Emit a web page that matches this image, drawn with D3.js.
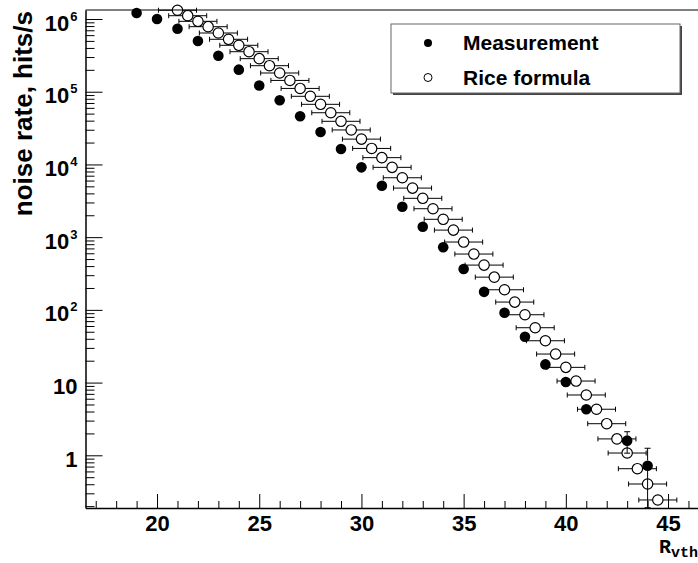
<!DOCTYPE html>
<html>
<head>
<meta charset="utf-8">
<script src="https://cdn.jsdelivr.net/npm/d3@7"></script>
<style>
  body { margin: 0; background: #fff; }
  text { font-family: 'Liberation Sans', Arial, sans-serif; font-weight: bold; fill: #000; }
</style>
</head>
<body>
<svg id="chart" width="698" height="563"></svg>
<script>
// measured noise rate (filled markers)
const measX = [19, 20, 21, 22, 23, 24, 25, 26, 27, 28, 29, 30, 31, 32, 33, 34, 35, 36, 37, 38, 39, 40, 41, 43, 44]
const measY = [1.21e6, 1.0e6, 7.36e5, 4.98e5, 3.13e5, 2.01e5, 1.22e5, 7.62e4, 4.59e4, 2.79e4, 1.63e4, 9.12e3,
  5.09e3, 2.62e3, 1.39e3, 725, 364, 177, 91.2, 42.7, 17.8, 10.2, 4.29, 1.59, 0.72]
const measErr = [0, 0, 0, 0, 0, 0, 0, 0, 0, 0, 0, 0, 0, 0, 0, 0, 0, 0, 0, 0, 0, 0, 0, 0.52, 0.53]

// Rice formula (open markers)
const riceX = [21, 21.5, 22, 22.5, 23, 23.5, 24, 24.5, 25, 25.5, 26, 26.5, 27, 27.5, 28, 28.5, 29, 29.5,
  30, 30.5, 31, 31.5, 32, 32.5, 33, 33.5, 34, 34.5, 35, 35.5, 36, 36.5, 37, 37.5, 38, 38.5, 39, 39.5,
  40, 40.5, 41, 41.5, 42, 42.5, 43, 43.5, 44, 44.5]
const riceY = [1.32e6, 1.11e6, 9.3e5, 7.84e5, 6.42e5, 5.26e5, 4.35e5, 3.55e5, 2.85e5, 2.28e5, 1.81e5, 1.43e5,
  1.11e5, 8.65e4, 6.71e4, 5.14e4, 3.92e4, 2.98e4, 2.23e4, 1.66e4, 1.24e4, 9.12e3, 6.56e3, 4.73e3,
  3.42e3, 2.46e3, 1.76e3, 1.25e3, 857, 586, 413, 282, 189, 128, 85.7, 56.8, 37.6, 24.7,
  16.2, 10.5, 6.75, 4.3, 2.72, 1.68, 1.075, 0.654, 0.403, 0.243]
const riceXErr = 0.93

const xMajorTicks = [20, 25, 30, 35, 40, 45]
const yMajorTicks = [1, 10, 100, 1e3, 1e4, 1e5, 1e6]
const yTickLabels = ['1', '10', '10|2', '10|3', '10|4', '10|5', '10|6']

const svg = d3.select('#chart')
const frame = { left: 85.5, top: 10, right: 698.7, bottom: 508 }

const x = d3.scaleLinear().domain([16.5, 46.5]).range([frame.left, frame.right])
const y = d3.scaleLog().domain([0.1885, 1.33e6]).range([frame.bottom, frame.top])

// top frame line
svg.append('line')
  .attr('x1', frame.left).attr('x2', frame.right)
  .attr('y1', frame.top).attr('y2', frame.top)
  .attr('stroke', '#000').attr('stroke-width', 1.2)

// x axis: minor + major ticks pointing inward
const xMinor = d3.range(17, 47).filter((v) => !xMajorTicks.includes(v))
svg.append('g')
  .attr('transform', `translate(0,${frame.bottom})`)
  .call(d3.axisBottom(x).tickValues(xMinor).tickSize(-7).tickSizeOuter(0).tickFormat(''))
  .call((g) => g.select('.domain').remove())
const gx = svg.append('g')
  .attr('transform', `translate(0,${frame.bottom})`)
  .call(d3.axisBottom(x).tickValues(xMajorTicks).tickSize(-14).tickSizeOuter(0).tickPadding(7))
gx.selectAll('.tick text').attr('font-size', 22)
gx.select('.domain').attr('stroke-width', 1.5)

// y axis
let yMinor = []
for (let e = -1; e <= 6; e++) {
  for (let k = 2; k <= 9; k++) {
    const v = k * Math.pow(10, e)
    if (v >= y.domain()[0] && v <= y.domain()[1]) yMinor.push(v)
  }
}
svg.append('g')
  .attr('transform', `translate(${frame.left},0)`)
  .call(d3.axisLeft(y).tickValues(yMinor).tickSize(-9).tickSizeOuter(0).tickFormat(''))
  .call((g) => g.select('.domain').remove())
const gy = svg.append('g')
  .attr('transform', `translate(${frame.left},0)`)
  .call(d3.axisLeft(y).tickValues(yMajorTicks).tickSize(-17).tickSizeOuter(0).tickPadding(8).tickFormat(''))
gy.select('.domain').attr('stroke-width', 1.5)
gy.selectAll('.tick text').each(function (d, i) {
  const t = d3.select(this).attr('font-size', 22).attr('dy', '0.5em')
  const parts = yTickLabels[i].split('|')
  t.append('tspan').text(parts[0])
  if (parts[1]) {
    t.append('tspan').attr('font-size', 13).attr('dy', -10).attr('dx', 1).text(parts[1])
  }
})

// axis titles
svg.append('text')
  .attr('transform', 'translate(32,11) rotate(-90)')
  .attr('text-anchor', 'end')
  .attr('font-size', 26)
  .text('noise rate, hits/s')

const xt = svg.append('text')
  .attr('x', 698).attr('y', 553)
  .attr('text-anchor', 'end')
  .style('font-family', "'Liberation Mono', 'Courier New', monospace")
  .attr('font-size', 20)
xt.append('tspan').text('R')
xt.append('tspan').attr('font-size', 15).attr('dy', 4).text('vth')

// Rice formula points with horizontal error bars
const rOpen = 5.2
const rice = riceX.map((v, i) => ({ x: v, y: riceY[i] }))
const eb = svg.append('g').attr('stroke', '#000').attr('stroke-width', 1)
rice.forEach((d) => {
  const cx = x(d.x), cy = y(d.y)
  const xl = x(d.x - riceXErr), xr = x(d.x + riceXErr)
  eb.append('line').attr('x1', xl).attr('x2', cx - rOpen).attr('y1', cy).attr('y2', cy)
  eb.append('line').attr('x1', cx + rOpen).attr('x2', xr).attr('y1', cy).attr('y2', cy)
  eb.append('line').attr('x1', xl).attr('x2', xl).attr('y1', cy - 2.5).attr('y2', cy + 2.5)
  eb.append('line').attr('x1', xr).attr('x2', xr).attr('y1', cy - 2.5).attr('y2', cy + 2.5)
})

// measurement points with vertical error bars
const rFill = 5.3
const meas = measX.map((v, i) => ({ x: v, y: measY[i], e: measErr[i] }))
meas.forEach((d) => {
  if (!d.e) return
  const cx = x(d.x), cy = y(d.y)
  const yt = y(d.y + d.e)
  const lo = d.y - d.e
  const yb = lo > y.domain()[0] ? y(lo) : frame.bottom
  eb.append('line').attr('x1', cx).attr('x2', cx).attr('y1', yt).attr('y2', cy - rFill)
  eb.append('line').attr('x1', cx - 3).attr('x2', cx + 3).attr('y1', yt).attr('y2', yt)
  eb.append('line').attr('x1', cx).attr('x2', cx).attr('y1', cy + rFill).attr('y2', yb)
  if (lo > y.domain()[0]) {
    eb.append('line').attr('x1', cx - 3).attr('x2', cx + 3).attr('y1', yb).attr('y2', yb)
  }
})

svg.append('g')
  .selectAll('circle')
  .data(meas)
  .join('circle')
  .attr('cx', (d) => x(d.x))
  .attr('cy', (d) => y(d.y))
  .attr('r', rFill)
  .attr('fill', '#000')

svg.append('g')
  .selectAll('circle')
  .data(rice)
  .join('circle')
  .attr('cx', (d) => x(d.x))
  .attr('cy', (d) => y(d.y))
  .attr('r', rOpen)
  .attr('fill', 'none')
  .attr('stroke', '#000')
  .attr('stroke-width', 1.2)

// legend
const lg = svg.append('g')
lg.append('rect').attr('x', 393).attr('y', 26).attr('width', 289).attr('height', 69).attr('fill', '#444')
lg.append('rect').attr('x', 391).attr('y', 24).attr('width', 289).attr('height', 69)
  .attr('fill', '#fff').attr('stroke', '#666').attr('stroke-width', 1)
lg.append('circle').attr('cx', 428).attr('cy', 43).attr('r', 4).attr('fill', '#000')
lg.append('circle').attr('cx', 428).attr('cy', 77.5).attr('r', 4).attr('fill', 'none').attr('stroke', '#000')
lg.append('text').attr('x', 463).attr('y', 50).attr('font-size', 21).text('Measurement')
lg.append('text').attr('x', 463).attr('y', 85.3).attr('font-size', 21).text('Rice formula')
</script>
</body>
</html>
